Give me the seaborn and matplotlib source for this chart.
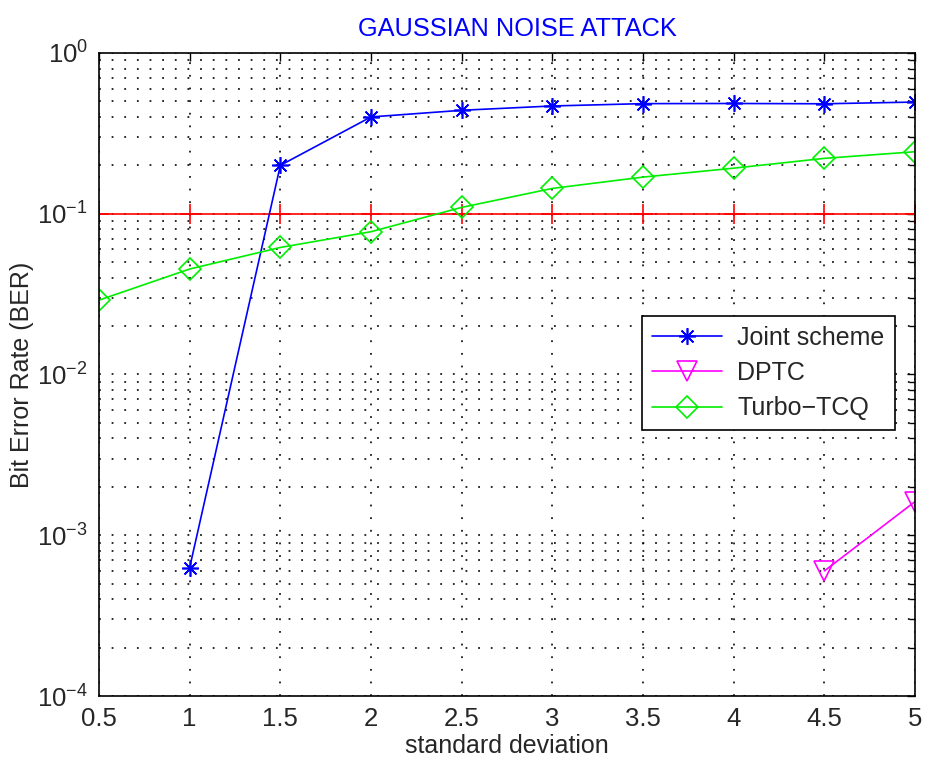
import numpy as np
import pandas as pd
import matplotlib
matplotlib.use("Agg")
import matplotlib.pyplot as plt
import seaborn as sns
from matplotlib.ticker import LogLocator, NullFormatter

# data
std_dev = [0.5, 1.0, 1.5, 2.0, 2.5, 3.0, 3.5, 4.0, 4.5, 5.0]
joint_x = [1.0, 1.5, 2.0, 2.5, 3.0, 3.5, 4.0, 4.5, 5.0]
joint_ber = [6.3e-4, 0.20, 0.40, 0.44, 0.468, 0.484, 0.485, 0.483, 0.495]
dptc_x = [4.5, 5.0]
dptc_ber = [6.0e-4, 1.62e-3]
turbo_ber = [0.029, 0.0453, 0.0617, 0.0773, 0.1095, 0.1437, 0.169, 0.192, 0.221, 0.243]
threshold_ber = [0.1] * len(std_dev)
x_ticklabels = ["0.5", "1", "1.5", "2", "2.5", "3", "3.5", "4", "4.5", "5"]

sns.set_style("white")
plt.rcParams["font.family"] = ["Liberation Sans", "DejaVu Sans"]
plt.rcParams["mathtext.fontset"] = "custom"
plt.rcParams["mathtext.rm"] = "Liberation Sans"
plt.rcParams["mathtext.it"] = "Liberation Sans:italic"
plt.rcParams["mathtext.bf"] = "Liberation Sans:bold"

fig = plt.figure(figsize=(9.27, 7.61), dpi=100)
ax = fig.add_axes([0.1068, 0.0854, 0.8803, 0.845])

asterisk = (8, 2, 0)

sns.lineplot(x=std_dev, y=threshold_ber, ax=ax, color="red", lw=1.2,
             marker="+", markersize=14, markeredgecolor="red",
             markeredgewidth=1.2, sort=False)
sns.lineplot(x=joint_x, y=joint_ber, ax=ax, color="blue", lw=1.2,
             marker=asterisk, markersize=12, markeredgecolor="blue",
             markeredgewidth=1.2, label="Joint scheme", sort=False)
sns.lineplot(x=dptc_x, y=dptc_ber, ax=ax, color="magenta", lw=1.2,
             marker="v", markersize=15, markerfacecolor="none",
             markeredgecolor="magenta", markeredgewidth=1.2, label="DPTC", sort=False)
sns.lineplot(x=std_dev, y=turbo_ber, ax=ax, color="#00ee00", lw=1.2,
             marker="D", markersize=11, markerfacecolor="none",
             markeredgecolor="#00ee00", markeredgewidth=1.2, label="Turbo\u2212TCQ", sort=False)

ax.set_yscale("log")
ax.set_ylim(1e-4, 1)
ax.set_xlim(0.5, 5)
ax.set_xticks(std_dev)
ax.set_xticklabels(x_ticklabels)
ax.yaxis.set_major_locator(LogLocator(base=10, numticks=10))
ax.yaxis.set_minor_locator(LogLocator(base=10, subs=np.arange(2, 10), numticks=50))
ax.yaxis.set_minor_formatter(NullFormatter())

dots = dict(color="black", lw=1.3, linestyle=(0, (1, 6)), alpha=0.9)
ax.grid(True, which="major", axis="both", **dots)
ax.grid(True, which="minor", axis="y", **dots)

ax.tick_params(which="both", direction="in", top=True, right=True,
               labelsize=18.5, color="black")
ax.tick_params(which="major", length=6, width=1.0, pad=8)
ax.tick_params(which="minor", length=4, width=1.0)
for sp in ax.spines.values():
    sp.set_color("black")
    sp.set_linewidth(1.2)

ax.set_xlabel("standard deviation", fontsize=18, labelpad=2)
ax.set_ylabel("Bit Error Rate (BER)", fontsize=18, labelpad=2)
ax.set_title("GAUSSIAN NOISE ATTACK", color="blue", fontsize=18.3, pad=12, x=0.513)

leg = ax.legend(loc="upper left", bbox_to_anchor=(0.666, 0.591), borderaxespad=0,
                fontsize=18, handlelength=2.8, labelspacing=0.45, borderpad=0.4,
                handletextpad=0.6, fancybox=False, framealpha=1, edgecolor="black")
leg.get_frame().set_linewidth(1.2)

fig.savefig("out.png", dpi=100)
plt.close(fig)
